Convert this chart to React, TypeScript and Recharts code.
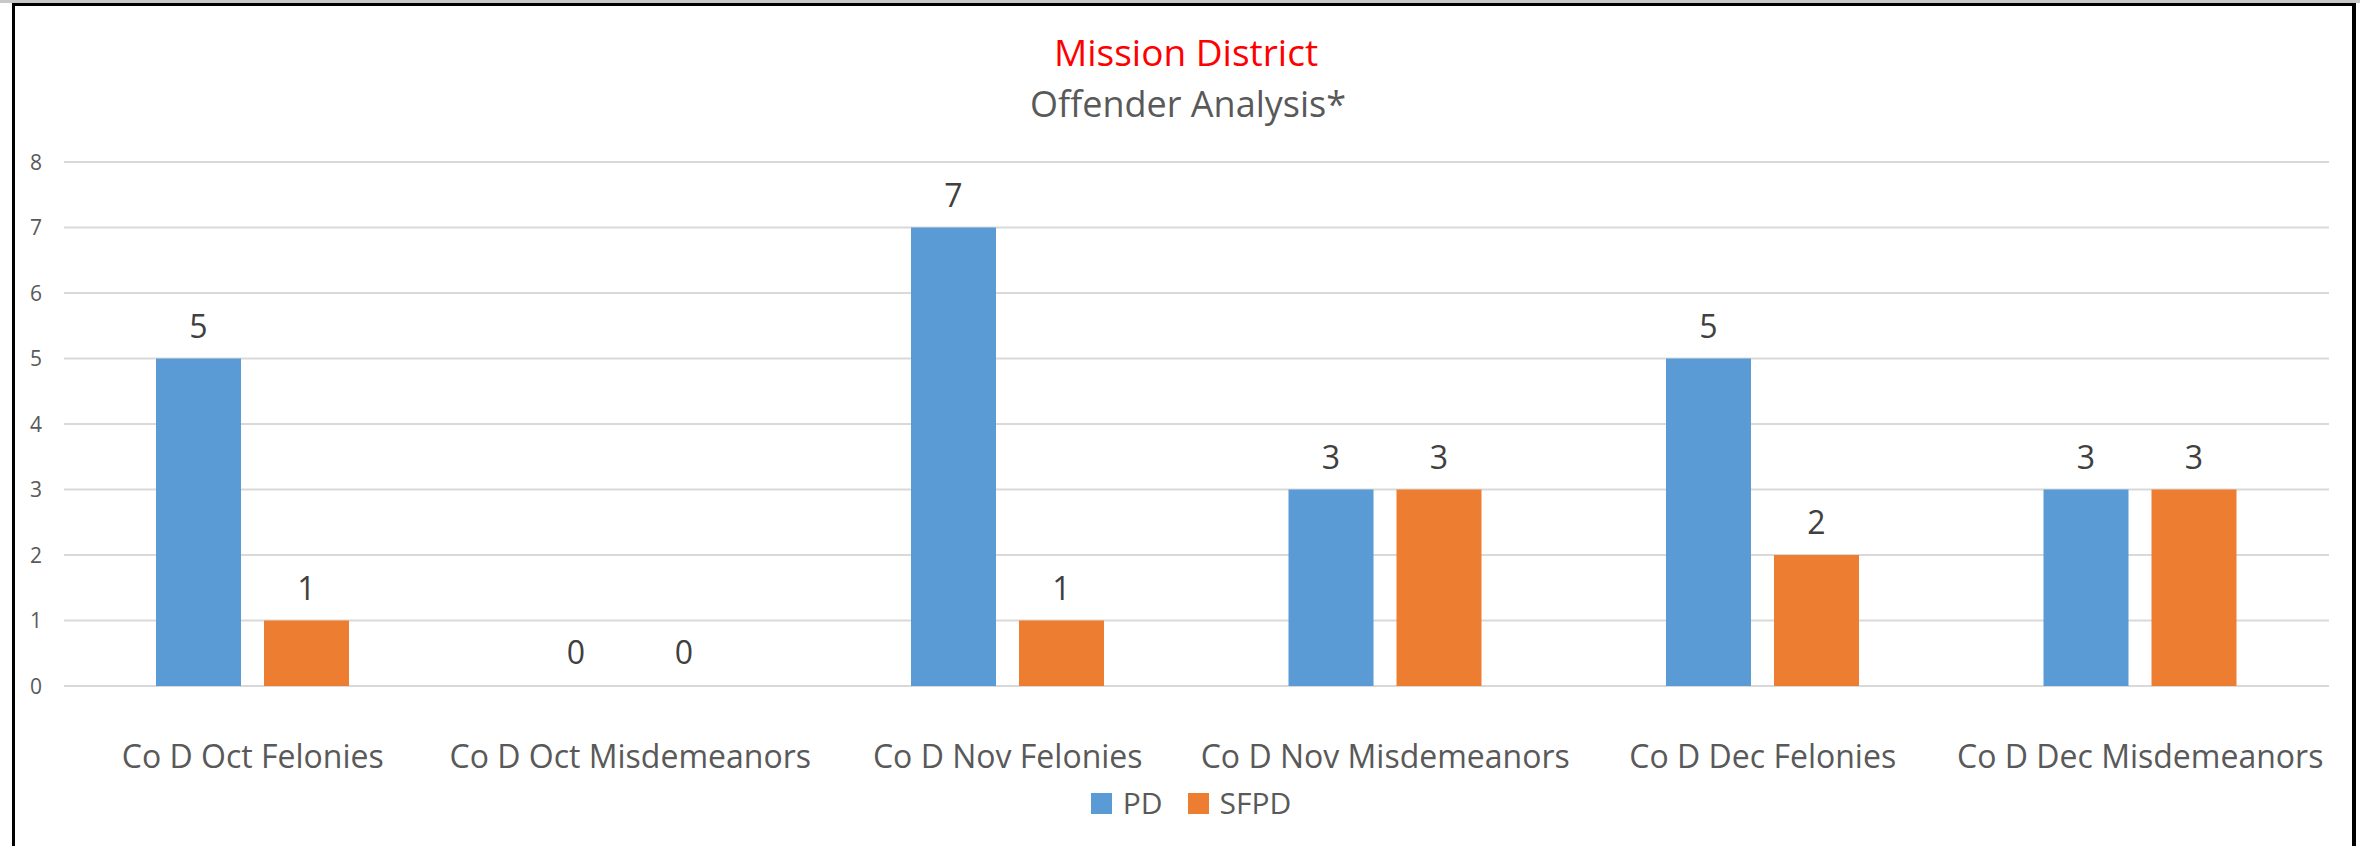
import React from 'react';
import {
  BarChart,
  Bar,
  Cell,
  XAxis,
  YAxis,
  CartesianGrid,
  Legend,
  LabelList,
} from 'recharts';

// categories and series
const categories = [
  'Co D Oct Felonies',
  'Co D Oct Misdemeanors',
  'Co D Nov Felonies',
  'Co D Nov Misdemeanors',
  'Co D Dec Felonies',
  'Co D Dec Misdemeanors',
];
const pdValues = [5, 0, 7, 3, 5, 3];
const sfpdValues = [1, 0, 1, 3, 2, 3];
const yTicks = [0, 1, 2, 3, 4, 5, 6, 7, 8];

const seriesNames = { pd: 'PD', sfpd: 'SFPD' };
const colors = { pd: '#5B9BD5', sfpd: '#ED7D31' };

const FONT = '"Open Sans", sans-serif';

const chartData = categories.map((name, i) => ({
  name,
  pd: pdValues[i],
  sfpd: sfpdValues[i],
}));

function CategoryTick({ x, y, payload }: any) {
  return (
    <text x={x} y={y + 82} textAnchor="middle" fill="#595959" fontSize={32} fontFamily={FONT}>
      {payload.value}
    </text>
  );
}

function ValueTick({ x, y, payload }: any) {
  return (
    <text x={x - 28} y={y + 7.5} textAnchor="middle" fill="#595959" fontSize={21} fontFamily={FONT}>
      {payload.value}
    </text>
  );
}

function LegendContent({ payload }: any) {
  return (
    <div
      style={{
        display: 'flex',
        justifyContent: 'center',
        alignItems: 'center',
        height: 46,
        marginLeft: 22,
        fontFamily: FONT,
        fontSize: 30,
        color: '#595959',
      }}
    >
      {(payload || []).map((entry: any, i: number) => (
        <div key={entry.value} style={{ display: 'flex', alignItems: 'center', marginLeft: i ? 25 : 0 }}>
          <span style={{ width: 21, height: 21, background: entry.color, marginRight: 11 }} />
          <span style={{ lineHeight: '46px' }}>{entry.value}</span>
        </div>
      ))}
    </div>
  );
}

// zero bars keep a 1px invisible rect so their "0" label is still drawn
const fmt = (v: any) => String(v);

export default function App() {
  return (
    <div
      style={{
        position: 'fixed',
        left: 0,
        top: 0,
        width: 2360,
        height: 846,
        overflow: 'hidden',
        background: '#fff',
      }}
    >
      <div style={{ position: 'absolute', left: 0, top: 0, width: 2360, height: 3, background: '#c8c8c8' }} />
      <div
        style={{
          position: 'absolute',
          left: 12,
          top: 3,
          width: 2337,
          height: 900,
          borderTop: '3px solid #000',
          borderLeft: '3px solid #000',
          borderRight: '4px solid #000',
        }}
      />
      <div style={{ position: 'absolute', left: 0, top: 0 }}>
        <BarChart
          width={2360}
          height={846}
          data={chartData}
          margin={{ top: 162, right: 31, left: 0, bottom: 20 }}
          barSize={85}
          barGap={23}
        >
          <CartesianGrid vertical={false} stroke="#D9D9D9" strokeWidth={2} />
          <XAxis
            dataKey="name"
            interval={0}
            axisLine={false}
            tickLine={false}
            tickSize={0}
            tickMargin={0}
            height={94}
            tick={<CategoryTick />}
          />
          <YAxis
            domain={[0, 8]}
            ticks={yTicks}
            axisLine={false}
            tickLine={false}
            tickSize={0}
            tickMargin={0}
            width={64}
            tick={<ValueTick />}
          />
          <Legend
            verticalAlign="bottom"
            height={46}
            wrapperStyle={{ left: 0, width: 2360 }}
            content={<LegendContent />}
          />
          <Bar dataKey="pd" name={seriesNames.pd} fill={colors.pd} minPointSize={1} isAnimationActive={false}>
            {pdValues.map((v, i) => (
              <Cell key={i} fill={v === 0 ? 'transparent' : colors.pd} />
            ))}
            <LabelList dataKey="pd" position="top" offset={21} formatter={fmt} fill="#404040" fontSize={32} fontFamily={FONT} />
          </Bar>
          <Bar dataKey="sfpd" name={seriesNames.sfpd} fill={colors.sfpd} minPointSize={1} isAnimationActive={false}>
            {sfpdValues.map((v, i) => (
              <Cell key={i} fill={v === 0 ? 'transparent' : colors.sfpd} />
            ))}
            <LabelList dataKey="sfpd" position="top" offset={21} formatter={fmt} fill="#404040" fontSize={32} fontFamily={FONT} />
          </Bar>
        </BarChart>
      </div>
      <svg width={2360} height={140} style={{ position: 'absolute', left: 0, top: 0, pointerEvents: 'none' }}>
        <text x={1186} y={66} textAnchor="middle" fill="#FF0000" fontSize={37} fontFamily={FONT}>
          Mission District
        </text>
        <text x={1188} y={117} textAnchor="middle" fill="#595959" fontSize={36} fontFamily={FONT}>
          Offender Analysis*
        </text>
      </svg>
    </div>
  );
}
